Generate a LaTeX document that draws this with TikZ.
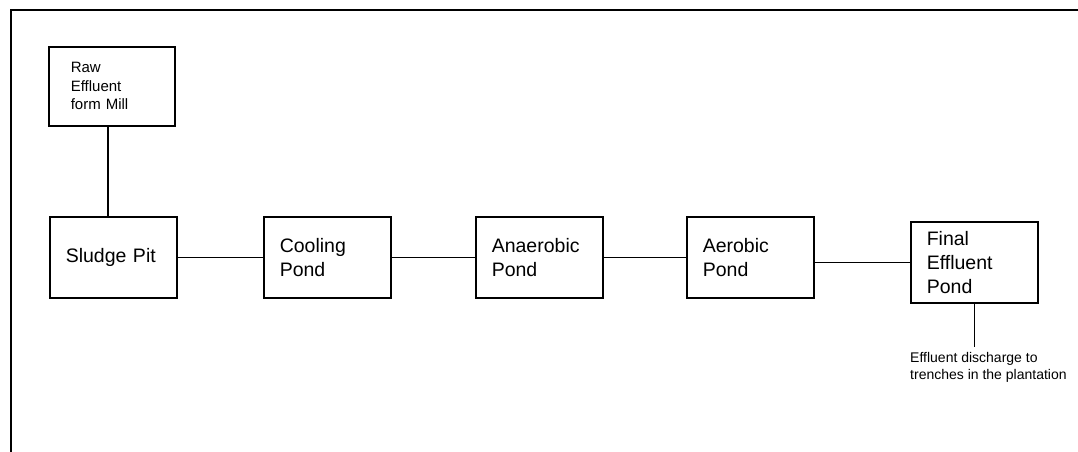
\documentclass[tikz,border=0pt]{standalone}
\usepackage{fontspec}
\setmainfont{Liberation Sans}
\begin{document}
\begin{tikzpicture}[x=1pt, y=-1pt,
    pond/.style={draw, line width=1.6pt, rectangle, anchor=north west,
      minimum height=81pt, text width=95pt, inner xsep=16pt, align=left,
      font=\fontsize{19.5}{24}\selectfont},
    source/.style={draw, line width=1.6pt, rectangle, anchor=north west,
      minimum height=79pt, text width=82pt, inner xsep=22pt, align=left,
      font=\fontsize{15}{18.5}\selectfont},
    note/.style={anchor=north west, inner xsep=0pt, inner ysep=5pt, align=left,
      font=\fontsize{14}{17}\selectfont},
    link/.style={line width=1.6pt}]

      % Definitions
      \def\top{216}     % Top of the row of ponds
      \def\shift{4}     % Offset of the line below the raw effluent box

      \useasboundingbox (0,0) rectangle (1078,452);

      % Frame (top and left edge only)
      \draw [line width=1.8pt] (11,452) -- (11,10) -- (1078,10);

      % Boxes
      \node [source] (raw) at (48,46) {Raw\\Effluent\\form Mill};
      \node [pond] (sludge) at (49,\top) {Sludge Pit};
      \node [pond] (cool) at (263,\top) {Cooling\\Pond};
      \node [pond] (anaer) at (475,\top) {Anaerobic\\Pond};
      \node [pond] (aer) at (686,\top) {Aerobic\\Pond};
      \node [pond] (final) at (910,221) {Final\\Effluent\\Pond};
      \node [note] (drain) at (910,347) {Effluent discharge to\\trenches in the plantation};

      % Connectors
      \draw [link] ([xshift=-\shift pt]raw.south) -- ([xshift=-\shift pt]raw.south |- sludge.north);
      \draw [link] (sludge.east) -- (sludge.east -| cool.west);
      \draw [link] (cool.east) -- (cool.east -| anaer.west);
      \draw [link] (anaer.east) -- (anaer.east -| aer.west);
      \draw [link] (final.west -| aer.east) -- (final.west);
      \draw [link] (final.south) -- (final.south |- drain.north);   % Outlet to the plantation

\end{tikzpicture}
\end{document}
